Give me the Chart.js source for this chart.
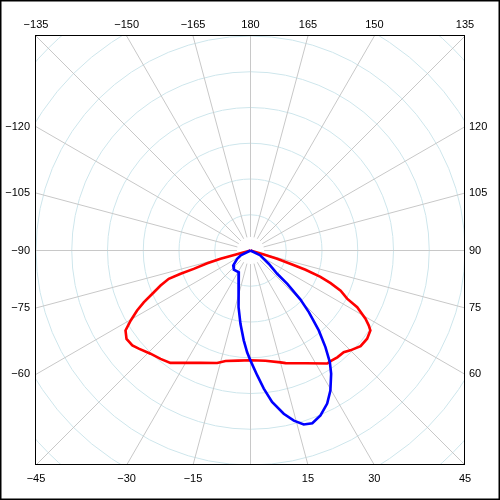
<!DOCTYPE html>
<html>
<head>
<meta charset="utf-8">
<script src="https://cdn.jsdelivr.net/npm/chart.js@4.4.1/dist/chart.umd.min.js"></script>
<style>
html,body{margin:0;padding:0;background:#fff;}
#wrap{width:500px;height:500px;position:relative;}
canvas{display:block;}
</style>
</head>
<body>
<div id="wrap"><canvas id="c" width="500" height="500"></canvas></div>
<script>
// ---- data (angle in degrees measured from nadir, value in arbitrary intensity units) ----
const redAngles = [-90, -74.5, -73.5, -72.1, -71.6, -70.9, -68.7, -66.2, -64.1, -62.1, -59.7, -57.4, -54.5, -51.2, -48.7, -44.1, -39.7, -35.5, -30, -24, -16.5, -12.7, -6.5, 0, 7.7, 15, 17.3, 26, 34.2, 35.9, 39.1, 42.5, 45, 49, 52.9, 56.3, 57.6, 59.3, 62, 63.5, 66, 67.8, 69.4, 70.7, 71.4, 72.7, 73.3, 90];
const redValues = [0, 87, 126, 167, 206, 242, 270, 300, 332, 359, 388, 415, 426, 424, 416, 402, 394, 386, 363, 344, 328, 317, 310, 307, 311, 324, 330, 351, 382, 382, 385, 386, 395, 408, 409, 403, 392, 374, 338, 302, 276, 242, 209, 163, 123, 78, 39, 0];
const blueAngles = [-90, -63.4, -58, -49, -40.9, -28.3, -23.7, -17.1, -11.7, -7.8, -4.3, -1.9, 0, 3.1, 5.5, 8.1, 11.5, 14.3, 17, 19.7, 23, 26.6, 29.7, 33.2, 35.4, 37.8, 40.5, 43.4, 45.5, 47.8, 48.9, 54, 63.4, 90];
const blueValues = [0, 31, 44, 64, 71, 69, 82, 117, 162, 207, 252, 285, 308, 350, 388, 428, 466, 491, 509, 513, 501, 479, 451, 412, 383, 342, 294, 238, 196, 139, 99, 63, 31, 0];

const ringValues = [100, 200, 300, 400, 500, 600, 700, 800];
const spokeAngles = [-165, -150, -135, -120, -105, -90, -75, -60, -45, -30, -15, 0, 15, 30, 45, 60, 75, 90, 105, 120, 135, 150, 165, 180];
const bottomLabels = [-45, -30, -15, 15, 30, 45];
const topLabels = [-135, -150, -165, 180, 165, 150, 135];
const leftLabels = [-60, -75, -90, -105, -120];
const rightLabels = [60, 75, 90, 105, 120];

const R = 600;            // half-width of the square plot, in value units
const SPOKE_START = 38;   // spokes start a little away from the centre

// ---- helpers ----
const rad = d => d * Math.PI / 180;
const clampR = v => Math.max(-R, Math.min(R, v));
const fmt = n => String(n).replace('-', '\u2212');
const toXY = (a, v) => ({ x: v * Math.sin(rad(a)), y: -v * Math.cos(rad(a)) });
const series = (angles, values) => angles.map((a, i) => toXY(a, values[i]));

const bottomPos = bottomLabels.map(b => clampR(R * Math.tan(rad(b))));
const topPos = topLabels.map(t => { const a = t === 180 ? 0 : (t < 0 ? -180 - t : 180 - t); return clampR(R * Math.tan(rad(a))); });
const leftPos = leftLabels.map(l => clampR(R * Math.tan(rad(-90 - l))));
const rightPos = rightLabels.map(l => clampR(R * Math.tan(rad(l - 90))));

const polarGrid = {
  id: 'polarGrid',
  beforeDatasetsDraw(chart) {
    const { ctx, chartArea: ca, scales } = chart;
    const xs = scales.x, ys = scales.y;
    const px = p => ({ x: xs.getPixelForValue(p.x), y: ys.getPixelForValue(p.y) });
    const cx = xs.getPixelForValue(0), cy = ys.getPixelForValue(0);
    ctx.save();
    ctx.beginPath();
    ctx.rect(ca.left, ca.top, ca.right - ca.left, ca.bottom - ca.top);
    ctx.clip();
    ctx.lineWidth = 1;
    ctx.strokeStyle = 'rgb(206,230,236)';
    ringValues.forEach(v => {
      const r = xs.getPixelForValue(v) - cx;
      ctx.beginPath();
      ctx.arc(cx, cy, r, 0, Math.PI * 2);
      ctx.stroke();
    });
    ctx.strokeStyle = 'rgb(200,200,200)';
    spokeAngles.forEach(a => {
      const p0 = px(toXY(a, SPOKE_START));
      const p1 = px(toXY(a, 3000));
      ctx.beginPath();
      ctx.moveTo(p0.x, p0.y);
      ctx.lineTo(p1.x, p1.y);
      ctx.stroke();
    });
    ctx.restore();
  },
  afterDraw(chart) {
    const { ctx, chartArea: ca } = chart;
    ctx.save();
    ctx.strokeStyle = '#000';
    ctx.lineWidth = 1;
    ctx.strokeRect(Math.round(ca.left) - 0.5, Math.round(ca.top) - 0.5, Math.round(ca.right - ca.left), Math.round(ca.bottom - ca.top));
    ctx.lineWidth = 1.5;
    ctx.strokeRect(0.75, 0.75, chart.width - 1.5, chart.height - 1.5);
    ctx.restore();
  }
};

Chart.defaults.font.family = "'Liberation Sans', Arial, sans-serif";
Chart.defaults.font.size = 11;
Chart.defaults.color = '#000';

const tickBase = { autoSkip: false, maxRotation: 0, minRotation: 0, color: '#000', font: { size: 11 } };
const noGrid = { display: false, drawTicks: false };

new Chart(document.getElementById('c'), {
  type: 'scatter',
  data: {
    datasets: [
      { label: 'blue', data: series(blueAngles, blueValues), showLine: true, borderColor: '#0000ff', backgroundColor: '#0000ff', borderWidth: 2.6, pointRadius: 0, tension: 0, fill: false },
      { label: 'red', data: series(redAngles, redValues), showLine: true, borderColor: '#ff0000', backgroundColor: '#ff0000', borderWidth: 2.6, pointRadius: 0, tension: 0, fill: false }
    ]
  },
  options: {
    responsive: false,
    devicePixelRatio: 1,
    animation: false,
    layout: { padding: 0 },
    plugins: { legend: { display: false }, tooltip: { enabled: false } },
    scales: {
      x: {
        type: 'linear', position: 'bottom', min: -R, max: R,
        grid: noGrid, border: { display: false },
        ticks: Object.assign({}, tickBase, { padding: 7, callback: (v, i) => fmt(bottomLabels[i]) }),
        afterBuildTicks: s => { s.ticks = bottomPos.map(v => ({ value: v })); },
        afterFit: s => { s.height = 35; }
      },
      x2: {
        type: 'linear', position: 'top', min: -R, max: R,
        grid: noGrid, border: { display: false },
        ticks: Object.assign({}, tickBase, { padding: 4, callback: (v, i) => fmt(topLabels[i]) }),
        afterBuildTicks: s => { s.ticks = topPos.map(v => ({ value: v })); },
        afterFit: s => { s.height = 36; }
      },
      y: {
        type: 'linear', position: 'left', min: -R, max: R,
        grid: noGrid, border: { display: false },
        ticks: Object.assign({}, tickBase, { padding: 6, callback: (v, i) => fmt(leftLabels[i]) }),
        afterBuildTicks: s => { s.ticks = leftPos.map(v => ({ value: v })); },
        afterFit: s => { s.width = 36; }
      },
      y2: {
        type: 'linear', position: 'right', min: -R, max: R,
        grid: noGrid, border: { display: false },
        ticks: Object.assign({}, tickBase, { padding: 4, callback: (v, i) => fmt(rightLabels[i]) }),
        afterBuildTicks: s => { s.ticks = rightPos.map(v => ({ value: v })); },
        afterFit: s => { s.width = 35; }
      }
    }
  },
  plugins: [polarGrid]
});
</script>
</body>
</html>
